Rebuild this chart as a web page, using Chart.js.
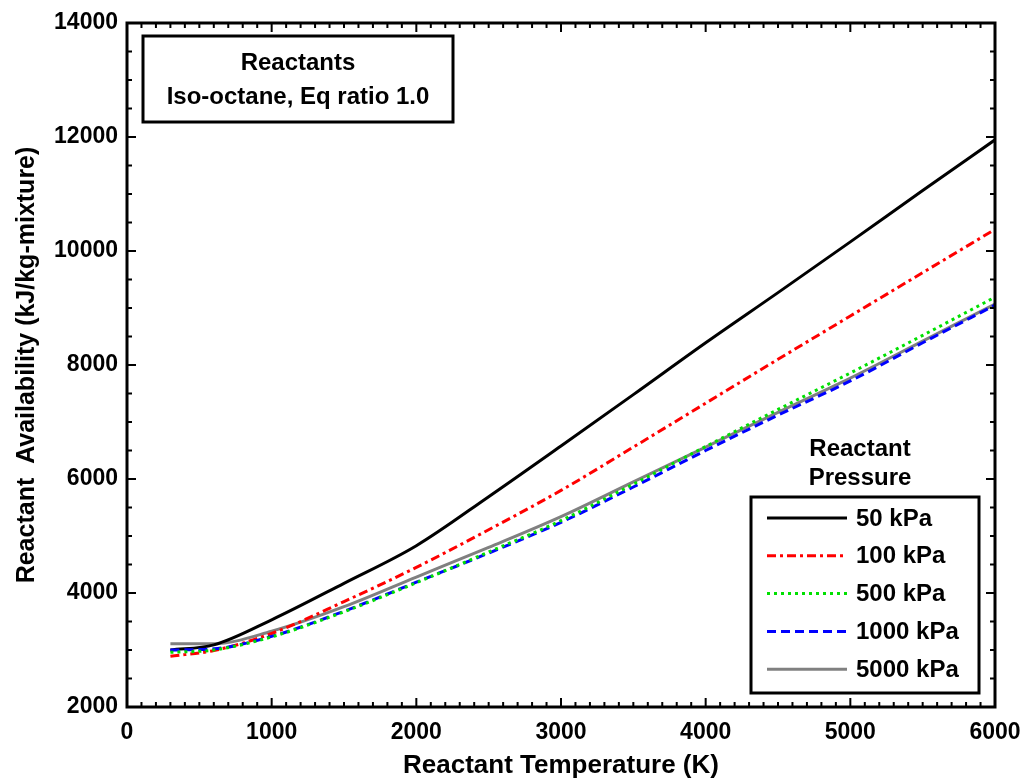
<!DOCTYPE html>
<html lang="en">
<head>
  <meta charset="UTF-8">
  <title>Reactant Availability</title>
  <style>
    body { margin:0; padding:0; background:#fff; }
    #wrap { width:1026px; height:781px; }
  </style>
</head>
<body>
  <div id="wrap"><canvas id="chart" width="1026" height="781"></canvas></div>

  <script src="https://cdn.jsdelivr.net/npm/chart.js"></script>
  <script>
    // values
    const temps  = [300, 600, 1000, 1500, 2000, 2500, 3000, 3500, 4000, 4500, 5000, 5500, 6000];
    const p50    = [3000, 3090, 3530, 4170, 4830, 5690, 6580, 7480, 8390, 9270, 10160, 11060, 11950];
    const p100   = [2890, 2990, 3290, 3850, 4450, 5110, 5800, 6560, 7330, 8100, 8860, 9620, 10380];
    const p500   = [2960, 3000, 3230, 3670, 4180, 4720, 5270, 5910, 6570, 7220, 7860, 8520, 9190];
    const p1000  = [3000, 3020, 3240, 3680, 4190, 4700, 5240, 5860, 6500, 7120, 7720, 8390, 9050];
    const p5000  = [3110, 3110, 3330, 3760, 4280, 4800, 5340, 5950, 6560, 7170, 7770, 8420, 9070];
    const seriesNames = ['50 kPa', '100 kPa', '500 kPa', '1000 kPa', '5000 kPa'];
    const xTicks = [0, 1000, 2000, 3000, 4000, 5000, 6000];
    const yTicks = [2000, 4000, 6000, 8000, 10000, 12000, 14000];
    const boxLines = ['Reactants', 'Iso-octane, Eq ratio 1.0'];
    const legendTitle = ['Reactant', 'Pressure'];

    const FONT = '"Liberation Sans", Arial, sans-serif';
    const pts = arr => temps.map((t, i) => ({ x: t, y: arr[i] }));

    const styles = [
      { color: '#000000', dash: [] },
      { color: '#ff0000', dash: [9, 4, 3, 4] },
      { color: '#00e000', dash: [3, 4] },
      { color: '#0000ff', dash: [9, 5] },
      { color: '#808080', dash: [] }
    ];

    const datasets = [p50, p100, p500, p1000, p5000].map((arr, i) => ({
      label: seriesNames[i],
      data: pts(arr),
      borderColor: styles[i].color,
      borderDash: styles[i].dash,
      borderWidth: 3,
      pointRadius: 0,
      fill: false,
      cubicInterpolationMode: 'monotone'
    }));
    // draw grey first so the others sit on top like the reference
    const order = [4, 0, 1, 3, 2];
    order.forEach((idx, k) => { datasets[idx].order = order.length - k; });

    const frameTicks = {
      id: 'frameTicks',
      afterDraw(chart) {
        const { ctx, chartArea: a, scales: { x, y } } = chart;
        ctx.save();
        ctx.strokeStyle = '#000';
        ctx.lineWidth = 2;
        ctx.beginPath();
        for (let v = 0; v <= 6000; v += 100) {
          const px = x.getPixelForValue(v);
          const len = v % 1000 === 0 ? 9 : 5;
          ctx.moveTo(px, a.bottom); ctx.lineTo(px, a.bottom - len);
          ctx.moveTo(px, a.top); ctx.lineTo(px, a.top + len);
        }
        for (let v = 2000; v <= 14000; v += 500) {
          const py = y.getPixelForValue(v);
          const len = v % 2000 === 0 ? 9 : 5;
          ctx.moveTo(a.left, py); ctx.lineTo(a.left + len, py);
          ctx.moveTo(a.right, py); ctx.lineTo(a.right - len, py);
        }
        ctx.stroke();
        ctx.lineWidth = 3;
        ctx.strokeRect(a.left, a.top, a.right - a.left, a.bottom - a.top);
        ctx.restore();
      }
    };

    const boxes = {
      id: 'boxes',
      afterDraw(chart) {
        const { ctx } = chart;
        ctx.save();
        ctx.font = 'bold 24px ' + FONT;
        ctx.fillStyle = '#000';
        ctx.strokeStyle = '#000';
        ctx.lineWidth = 3;

        // note box, top left
        const bx = 143, by = 36;
        const bw = 310, bh = 86;
        ctx.strokeRect(bx, by, bw, bh);
        ctx.textAlign = 'center';
        ctx.textBaseline = 'middle';
        ctx.fillText(boxLines[0], bx + bw / 2, by + 27);
        ctx.fillText(boxLines[1], bx + bw / 2, by + 61);

        // legend
        const lx = 751, ly = 497, lw = 228, lh = 196;
        ctx.fillText(legendTitle[0], 860, 449);
        ctx.fillText(legendTitle[1], 860, 478);
        ctx.fillStyle = '#fff';
        ctx.fillRect(lx, ly, lw, lh);
        ctx.strokeRect(lx, ly, lw, lh);
        ctx.textAlign = 'left';
        ctx.fillStyle = '#000';
        chart.data.datasets.forEach((ds, i) => {
          const rowY = ly + 21 + i * 37.8;
          ctx.save();
          ctx.strokeStyle = ds.borderColor;
          ctx.setLineDash(ds.borderDash);
          ctx.lineWidth = 3;
          ctx.beginPath();
          ctx.moveTo(767, rowY); ctx.lineTo(847, rowY);
          ctx.stroke();
          ctx.restore();
          ctx.fillText(ds.label, 856, rowY + 1);
        });
        ctx.restore();
      }
    };

    new Chart(document.getElementById('chart').getContext('2d'), {
      type: 'line',
      data: { datasets },
      options: {
        responsive: false,
        animation: false,
        layout: { padding: { left: 0, top: 23, right: 31, bottom: 0 } },
        plugins: { legend: { display: false }, tooltip: { enabled: false } },
        scales: {
          x: {
            type: 'linear', min: 0, max: 6000,
            afterBuildTicks: s => { s.ticks = xTicks.map(v => ({ value: v })); },
            afterFit: s => { s.height = 74; s.paddingRight = 0; s.paddingLeft = 0; },
            grid: { display: false, drawTicks: false },
            border: { display: false },
            ticks: { color: '#000', padding: 12, maxRotation: 0, callback: v => String(v),
                     font: { family: FONT, size: 23, weight: 'bold' } },
            title: { display: true, text: 'Reactant Temperature (K)', color: '#000', padding: { top: 0, bottom: 0 },
                     font: { family: FONT, size: 26, weight: 'bold' } }
          },
          y: {
            type: 'linear', min: 2000, max: 14000,
            afterBuildTicks: s => { s.ticks = yTicks.map(v => ({ value: v })); },
            afterFit: s => { s.width = 127; },
            grid: { display: false, drawTicks: false },
            border: { display: false },
            ticks: { color: '#000', padding: 9, callback: v => String(v),
                     font: { family: FONT, size: 23, weight: 'bold' } },
            title: { display: true, text: 'Reactant  Availability (kJ/kg-mixture)', color: '#000', padding: { top: 12, bottom: 4 },
                     font: { family: FONT, size: 25, weight: 'bold' } }
          }
        }
      },
      plugins: [frameTicks, boxes]
    });
  </script>
</body>
</html>
